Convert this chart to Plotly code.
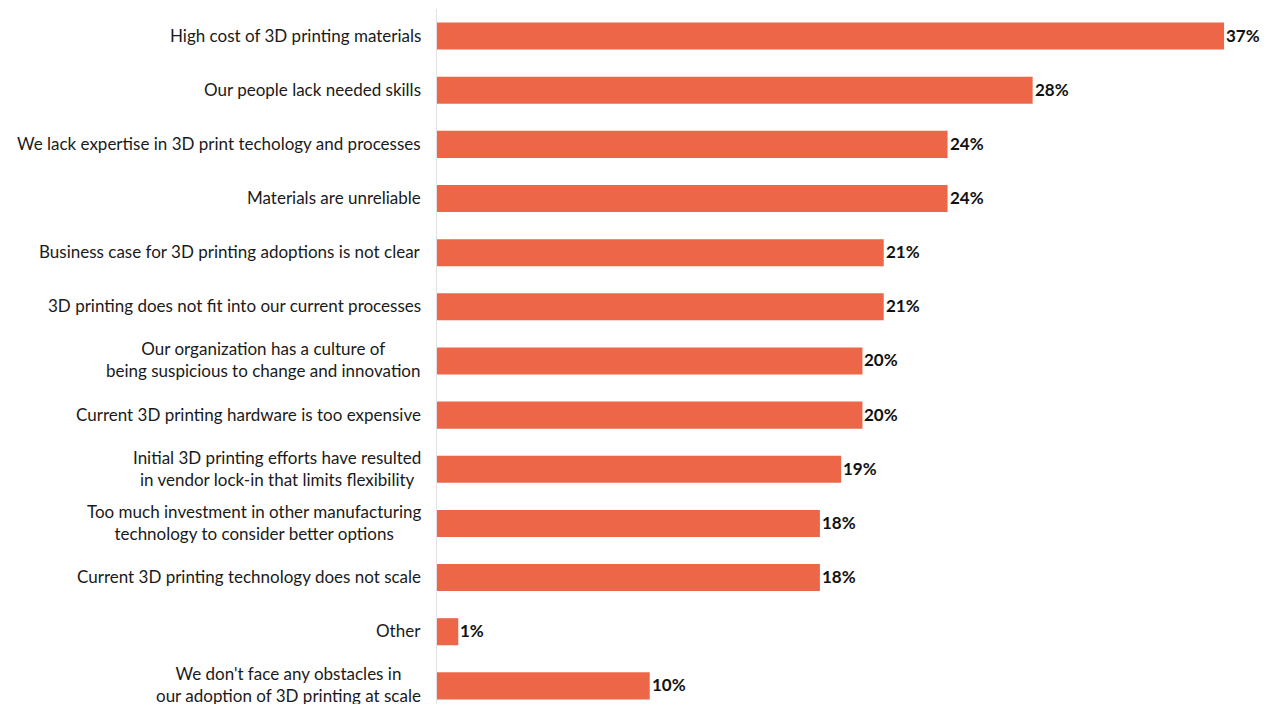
import plotly.graph_objects as go

# Survey responses: obstacles to adopting 3D printing at scale (share of respondents, %)
categories = [
    "High cost of 3D printing materials",
    "Our people lack needed skills",
    "We lack expertise in 3D print techology and processes",
    "Materials are unreliable",
    "Business case for 3D printing adoptions is not clear",
    "3D printing does not fit into our current processes",
    "Our organization has a culture of<br>being suspicious to change and innovation",
    "Current 3D printing hardware is too expensive",
    "Initial 3D printing efforts have resulted<br>in vendor lock-in that limits flexibility",
    "Too much investment in other manufacturing<br>technology to consider better options",
    "Current 3D printing technology does not scale",
    "Other",
    "We don't face any obstacles in<br>our adoption of 3D printing at scale",
]
values = [37, 28, 24, 24, 21, 21, 20, 20, 19, 18, 18, 1, 10]

BAR_COLOR = "#EC6647"
FONT = "Lato"

positions = list(range(len(categories)))

fig = go.Figure(
    go.Bar(
        x=values,
        y=positions,
        orientation="h",
        width=0.5,
        marker=dict(color=BAR_COLOR, line=dict(width=0)),
        hoverinfo="skip",
    )
)

# Value labels just past the end of each bar
for pos, v in zip(positions, values):
    fig.add_annotation(
        x=v, xref="x", xanchor="left", xshift=0,
        y=pos, yref="y", yanchor="middle", yshift=1,
        text=f"{v}%", showarrow=False,
        font=dict(family=FONT, size=17, color="#111111", weight="bold"),
    )

# Category labels as annotations so multi-line labels are centred line by line
for pos, label in zip(positions, categories):
    fig.add_annotation(
        x=0, xref="paper", xanchor="right", xshift=-14,
        y=pos, yref="y", yanchor="middle", yshift=1,
        text=label, showarrow=False, align="center",
        font=dict(family=FONT, size=17, color="#1a1a1a"),
    )

fig.update_layout(
    width=1268,
    height=704,
    margin=dict(l=437, r=12, t=9, b=0),
    paper_bgcolor="white",
    plot_bgcolor="white",
    showlegend=False,
    xaxis=dict(
        range=[0, 38.5], showgrid=False, zeroline=False,
        showticklabels=False, showline=False, ticks="",
    ),
    yaxis=dict(
        range=[12.335, -0.5], showgrid=False, zeroline=False,
        showticklabels=False, ticks="",
        showline=True, linecolor="#e2e2e2", linewidth=1,
    ),
)

fig.write_html("out.html")
